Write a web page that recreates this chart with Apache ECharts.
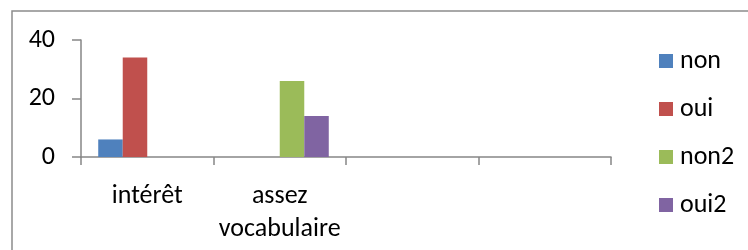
<!DOCTYPE html>
<html>
<head>
<meta charset="utf-8">
<script src="https://cdn.jsdelivr.net/npm/echarts@6/dist/echarts.min.js"></script>
<style>
html,body{margin:0;padding:0;background:#fff;}
#chart{width:748px;height:250px;}
</style>
</head>
<body>
<div id="chart"></div>
<script>
const categories = ['intérêt', 'assez vocabulaire', '', ''];
const seriesNames = ['non', 'oui', 'non2', 'oui2'];
const nonValues = [6, null, null, null];
const ouiValues = [34, null, null, null];
const non2Values = [null, 26, null, null];
const oui2Values = [null, 14, null, null];
const yTicks = [0, 20, 40];
const colors = ['#4F81BD', '#C0504D', '#9BBB59', '#8064A2'];

const FONT = 'Carlito, Lato, "Open Sans", sans-serif';
const FS = 26;
const axisColor = '#868686';
const chart = echarts.init(document.getElementById('chart'), null, {renderer: 'canvas'});
const values = [nonValues, ouiValues, non2Values, oui2Values];

chart.setOption({
  animation: false,
  color: colors,
  graphic: [{
    type: 'rect',
    shape: {x: 12, y: 11, width: 800, height: 300},
    style: {fill: 'none', stroke: '#8c8c8c', lineWidth: 1.5},
    silent: true
  }],
  grid: {left: 81, right: 137, top: 40, bottom: 93, containLabel: false},
  legend: {
    orient: 'vertical',
    left: 654,
    top: 43,
    itemWidth: 14,
    itemHeight: 14,
    itemGap: 22,
    icon: 'rect',
    data: seriesNames,
    textStyle: {fontFamily: FONT, fontSize: FS, lineHeight: 26, color: '#000', padding: [0, 0, 0, 2]}
  },
  xAxis: {
    type: 'category',
    data: categories,
    boundaryGap: true,
    axisLine: {show: true, lineStyle: {color: axisColor, width: 1.5}},
    axisTick: {show: true, length: 8, alignWithLabel: false, lineStyle: {color: axisColor, width: 1.5}},
    axisLabel: {
      interval: 0,
      margin: 23,
      fontFamily: FONT,
      fontSize: FS,
      lineHeight: 33,
      color: '#000',
      formatter: v => v.replace(' ', '\n')
    },
    splitLine: {show: false}
  },
  yAxis: {
    type: 'value',
    min: yTicks[0],
    max: yTicks[yTicks.length - 1],
    interval: yTicks[1] - yTicks[0],
    axisLine: {show: true, lineStyle: {color: axisColor, width: 1.5}},
    axisTick: {show: true, length: 9, lineStyle: {color: axisColor, width: 1.5}},
    axisLabel: {margin: 26, fontFamily: FONT, fontSize: FS, color: '#000'},
    splitLine: {show: false}
  },
  series: seriesNames.map((name, i) => ({
    name: name,
    type: 'bar',
    data: values[i],
    barGap: '0%',
    barCategoryGap: '26%',
    itemStyle: {color: colors[i]}
  }))
});
</script>
</body>
</html>
